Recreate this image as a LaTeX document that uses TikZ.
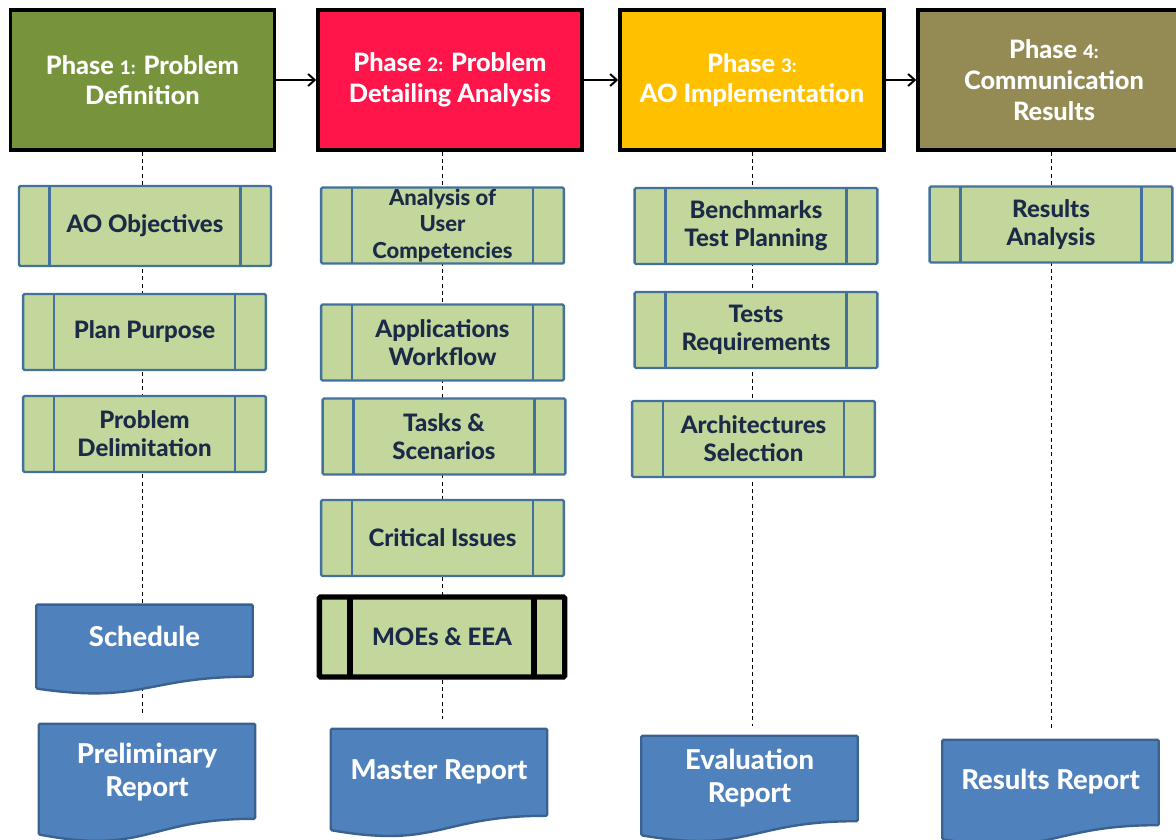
\documentclass[tikz,border=0pt]{standalone}
\usepackage{fontspec}
\setmainfont{Lato}[BoldFont={Lato Heavy}]
\usetikzlibrary{arrows.meta,positioning,calc,backgrounds}

\definecolor{phaseA}{HTML}{77933C}
\definecolor{phaseB}{HTML}{FF1549}
\definecolor{phaseC}{HTML}{FFC000}
\definecolor{phaseD}{HTML}{948A54}
\definecolor{procfill}{HTML}{C3D69B}
\definecolor{procline}{HTML}{41719C}
\definecolor{proctext}{HTML}{1B2A47}
\definecolor{docfill}{HTML}{4F81BD}
\definecolor{docline}{HTML}{3A6291}
\newcommand{\phnum}[1]{{\fontsize{14}{14}\selectfont #1}}
% document outline with a wavy lower edge, drawn round a named node
\newcommand{\docshape}[1]{%
  \filldraw[docpaint] (#1.north west) -- (#1.north east)
    -- ($(#1.south east)!0.198!(#1.north east)$)
    .. controls ($(#1.south)!0.198!(#1.north)$) and ($(#1.south)!-0.107!(#1.north)$)
    .. ($(#1.south west)!0.066!(#1.north west)$) -- cycle;}

\begin{document}
\begin{tikzpicture}[
  x=0.75pt, y=-0.75pt,
  phase/.style={rectangle, draw=black, line width=2.6pt, text=white,
    font=\bfseries\fontsize{19}{23}\selectfont, align=center,
    minimum width=198pt, minimum height=105pt},
  bars/.style 2 args={path picture={
    \draw[line width=#1, #2]
      ([xshift=23pt]path picture bounding box.north west) --
      ([xshift=23pt]path picture bounding box.south west)
      ([xshift=-23pt]path picture bounding box.north east) --
      ([xshift=-23pt]path picture bounding box.south east);}},
  proc/.style={rectangle, draw=procline, line width=1.8pt, fill=procfill,
    rounded corners=1pt, text=proctext, align=center, inner sep=1pt,
    font=\bfseries\fontsize{18}{21}\selectfont,
    minimum width=182pt, minimum height=57pt, bars={1.8pt}{procline}},
  docu/.style={rectangle, inner sep=1pt, text=white, align=center,
    font=\bfseries\fontsize{20.5}{25}\selectfont, text depth=20pt,
    minimum width=162pt},
  docpaint/.style={draw=docline, line width=1.8pt, fill=docfill,
    rounded corners=1pt},
  link/.style={dashed, line width=0.7pt, dash pattern=on 3pt off 2.5pt},
  >={Straight Barb[length=5pt,width=9pt]}
]
  \useasboundingbox (0,0) rectangle (1176,839);

  % phases
  \node[phase, fill=phaseA] (P1) at (142.5,80) {Phase \phnum{1:} Problem\\Definition};
  \node[phase, fill=phaseB] (P2) at (450,80) {Phase \phnum{2:} Problem\\Detailing Analysis};
  \node[phase, fill=phaseC] (P3) at (752,80) {Phase \phnum{3:}\\AO Implementation};
  \node[phase, fill=phaseD, minimum width=204pt] (P4) at (1054,80) {Phase \phnum{4:}\\Communication\\Results};

  \draw[->, line width=1.5pt] (P1) -- (P2);
  \draw[->, line width=1.5pt] (P2) -- (P3);
  \draw[->, line width=1.5pt] (P3) -- (P4);

  % column 1
  \node[proc, minimum width=189pt, minimum height=60pt] (AO) at (145,226) {AO Objectives};
  \node[proc] (PP) at (144.5,332) {Plan Purpose};
  \node[proc] (PD) at (144.5,434) {Problem\\Delimitation};
  \node[docu, minimum height=67pt] (SCH) at (144.5,649.5) {Schedule};
  \node[docu, minimum height=88.5pt] (PR) at (147,783) {Preliminary\\Report};

  % column 2
  \node[proc, font=\bfseries\fontsize{16.5}{20}\selectfont] (AUC) at (442.5,225.5) {Analysis of\\User\\Competencies};
  \node[proc] (AW) at (442.5,342.5) {Applications\\Workflow};
  \node[proc] (TS) at (444,436.5) {Tasks \&\\Scenarios};
  \node[proc] (CI) at (442.5,538) {Critical Issues};
  \node[proc, draw=black, line width=4pt, minimum width=184pt, minimum height=60pt,
    bars={4pt}{black}] (MOE) at (442,637) {MOEs \& EEA};
  \node[docu, minimum height=81pt] (MR) at (439,783) {Master Report};

  % column 3
  \node[proc] (BTP) at (756,226) {Benchmarks\\Test Planning};
  \node[proc] (TR) at (756,330) {Tests\\Requirements};
  \node[proc] (AS) at (753.5,439) {Architectures\\Selection};
  \node[docu, minimum height=79.5pt] (ER) at (749.5,789) {Evaluation\\Report};

  % column 4
  \node[proc] (RA) at (1051,224.5) {Results\\Analysis};
  \node[docu, minimum height=79.5pt] (RR) at (1050.5,793) {Results Report};

  % dashed guides and document outlines behind the boxes
  \begin{scope}[on background layer]
    \draw[link] (P1.south) -- ([yshift=7pt]P1.south |- PR.north);
    \draw[link] (P2.south -| MOE) -- ([yshift=7pt]MOE |- MR.north);
    \draw[link] (P3.south) -- ([yshift=7pt]P3.south |- ER.north);
    \draw[link] (P4.south -| RA) -- ([yshift=7pt]RA |- RR.north);
    \docshape{SCH} \docshape{PR} \docshape{MR} \docshape{ER} \docshape{RR}
  \end{scope}
\end{tikzpicture}
\end{document}
